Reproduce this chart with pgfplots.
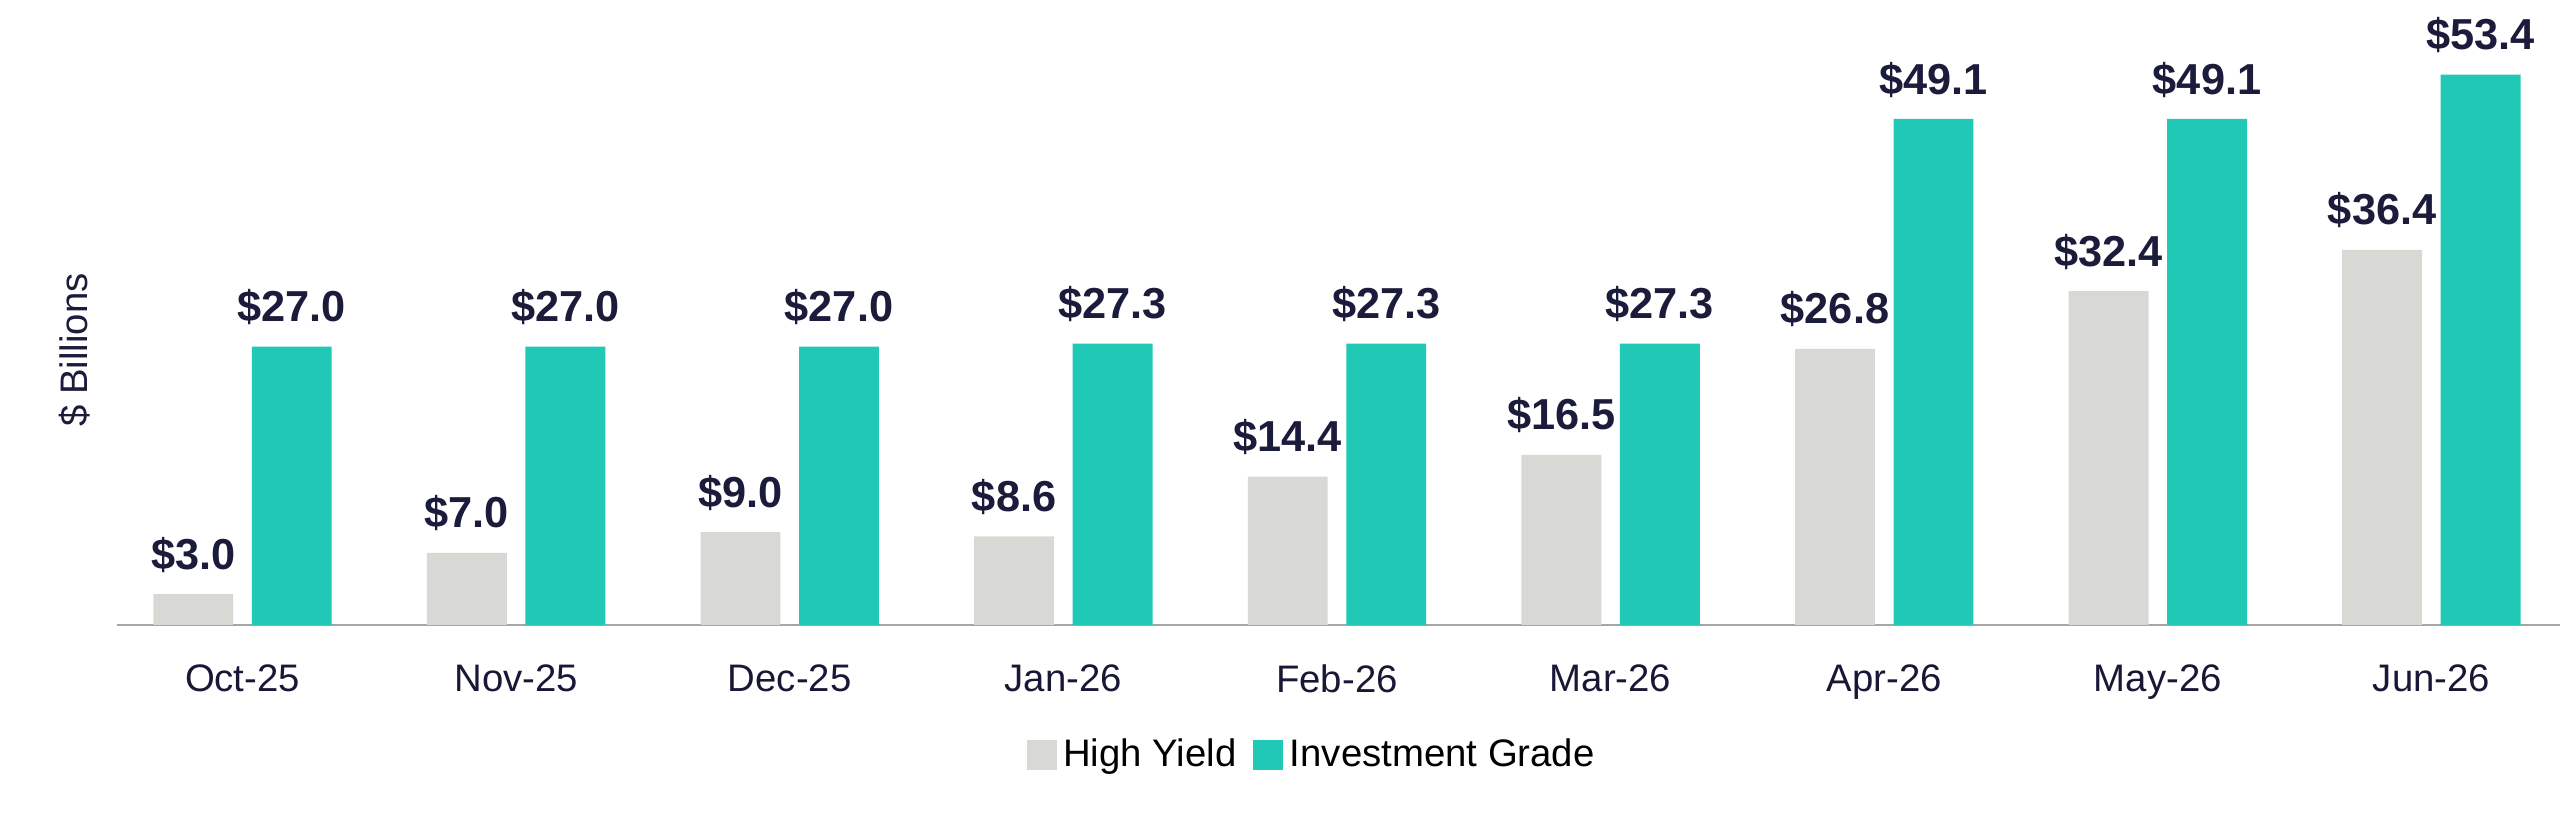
\documentclass[border=0pt]{standalone}
\usepackage{pgfplots}
\pgfplotsset{compat=1.18}
\usepackage{fontspec}
\setmainfont{Liberation Sans}
\definecolor{teal1}{HTML}{20C9B5}
\definecolor{gray1}{HTML}{D8D8D5}
\definecolor{navy}{HTML}{1B1B3C}
\begin{document}
\begin{tikzpicture}
\useasboundingbox (0,0) rectangle (768pt,248pt);
\begin{axis}[
  at={(35pt,60.5pt)}, anchor=south west,
  scale only axis, width=733pt, height=185.5pt,
  ybar, bar width=0.292,
  xmin=-0.46, xmax=8.47, ymin=0, ymax=60,
  axis y line=none, axis x line*=bottom,
  x axis line style={draw=black!35, line width=0.8pt},
  xtick=data, xtick style={draw=none},
  xticklabels={Oct-25,Nov-25,Dec-25,Jan-26,Feb-26,Mar-26,Apr-26,May-26,Jun-26},
  xticklabel style={font=\fontsize{11.5}{13}\selectfont, text=navy!90!black, yshift=-4pt},
  nodes near coords={\$\pgfmathprintnumber[fixed,fixed zerofill,precision=1,assume math mode=true]{\pgfplotspointmeta}},
  nodes near coords style={font=\fontsize{13}{15}\selectfont\bfseries, text=navy, yshift=3pt},
  legend style={at={(0.49,-0.21)}, anchor=center, draw=none, legend columns=-1,
    font=\fontsize{11.5}{13}\selectfont, /tikz/every even column/.append style={column sep=3pt}},
  legend image code/.code={\fill[#1] (0,-0.45em) rectangle (0.9em,0.45em);},
]
\addplot[fill=gray1, draw=none, bar shift=-0.18] coordinates {(0,3.0)(1,7.0)(2,9.0)(3,8.6)(4,14.4)(5,16.5)(6,26.8)(7,32.4)(8,36.4)};
\addplot[fill=teal1, draw=none, bar shift=0.18] coordinates {(0,27.0)(1,27.0)(2,27.0)(3,27.3)(4,27.3)(5,27.3)(6,49.1)(7,49.1)(8,53.4)};
\legend{High Yield, Investment Grade}
\end{axis}
\node[rotate=90, font=\fontsize{11.5}{13}\selectfont, text=navy] at (22.5pt,143pt) {\$ Billions};
\end{tikzpicture}
\end{document}
